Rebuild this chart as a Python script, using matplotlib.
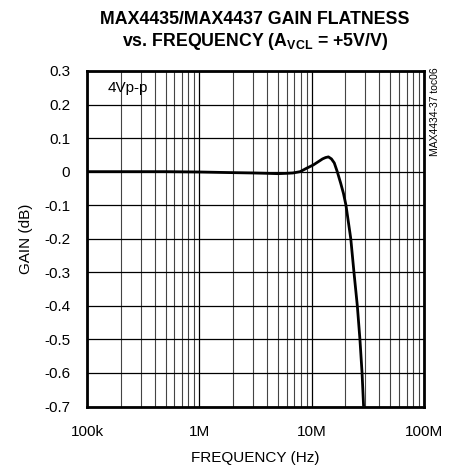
import matplotlib.pyplot as plt
from matplotlib.ticker import LogLocator, FixedLocator, NullFormatter

freq = [1e5, 2e5, 5e5, 1e6, 2e6, 3e6, 4e6, 5e6, 6e6, 6.8e6, 7.9e6, 9e6,
        10.35e6, 11.5e6, 12.5e6, 13.3e6, 14.1e6, 15.0e6, 15.9e6, 16.9e6,
        18.15e6, 19.2e6, 20.2e6, 22.3e6, 23.8e6, 25.5e6, 26.9e6, 28.1e6,
        29.0e6]
gain = [0.0, 0.0, 0.0, -0.001, -0.003, -0.004, -0.005, -0.006, -0.005,
        -0.004, 0.0, 0.010, 0.020, 0.030, 0.038, 0.042, 0.044, 0.038,
        0.026, 0.0, -0.035, -0.065, -0.1, -0.2, -0.3, -0.4, -0.5, -0.6,
        -0.7]

yticks = [0.3, 0.2, 0.1, 0, -0.1, -0.2, -0.3, -0.4, -0.5, -0.6, -0.7]
ytick_labels = ['0.3', '0.2', '0.1', '0', '-0.1', '-0.2', '-0.3', '-0.4',
                '-0.5', '-0.6', '-0.7']
xticks = [1e5, 1e6, 1e7, 1e8]
xtick_labels = ['100k', '1M', '10M', '100M']

plt.rcParams['font.family'] = ['Liberation Sans', 'DejaVu Sans']
plt.rcParams['mathtext.fontset'] = 'custom'
plt.rcParams['mathtext.bf'] = 'Liberation Sans:bold'
plt.rcParams['mathtext.rm'] = 'Liberation Sans'

fig = plt.figure(figsize=(4.5, 4.68), dpi=100)
ax = fig.add_axes([0.1933, 0.1314, 0.7489, 0.7169])

ax.plot(freq, gain, color='black', lw=2.0, solid_capstyle='butt', zorder=3)

ax.set_xscale('log')
ax.set_xlim(1e5, 1e8)
ax.set_ylim(-0.7, 0.3)
ax.xaxis.set_major_locator(FixedLocator(xticks))
ax.set_xticklabels(xtick_labels, fontsize=11)
ax.xaxis.set_minor_locator(LogLocator(base=10, subs=range(2, 10)))
ax.xaxis.set_minor_formatter(NullFormatter())
ax.set_yticks(yticks)
ax.set_yticklabels(ytick_labels, fontsize=11)
ax.tick_params(which='both', length=0)
ax.tick_params(axis='y', pad=12)
ax.tick_params(axis='x', pad=13)

ax.grid(True, which='major', color='black', lw=0.9)
ax.grid(True, which='minor', axis='x', color='#444444', lw=0.8)
for s in ax.spines.values():
    s.set_linewidth(2)
    s.set_zorder(4)

ax.set_xlabel('FREQUENCY (Hz)', fontsize=11, labelpad=9)
ax.set_ylabel('GAIN (dB)', fontsize=11, labelpad=8)

ax.text(0.06, 0.97, '4Vp-p', transform=ax.transAxes, fontsize=11,
        va='top', ha='left')
fig.text(0.967, 0.857, 'MAX4434-37 toc06', rotation=90, fontsize=7.5,
         va='top', ha='center')

fig.text(0.567, 0.959, 'MAX4435/MAX4437 GAIN FLATNESS',
         fontweight='bold', fontsize=12.8, ha='center', va='center')
fig.text(0.567, 0.912, r'vs. FREQUENCY (A$_{\mathbf{VCL}}$ = +5V/V)',
         fontweight='bold', fontsize=12.8, ha='center', va='center')

fig.savefig('out.png', dpi=100)
